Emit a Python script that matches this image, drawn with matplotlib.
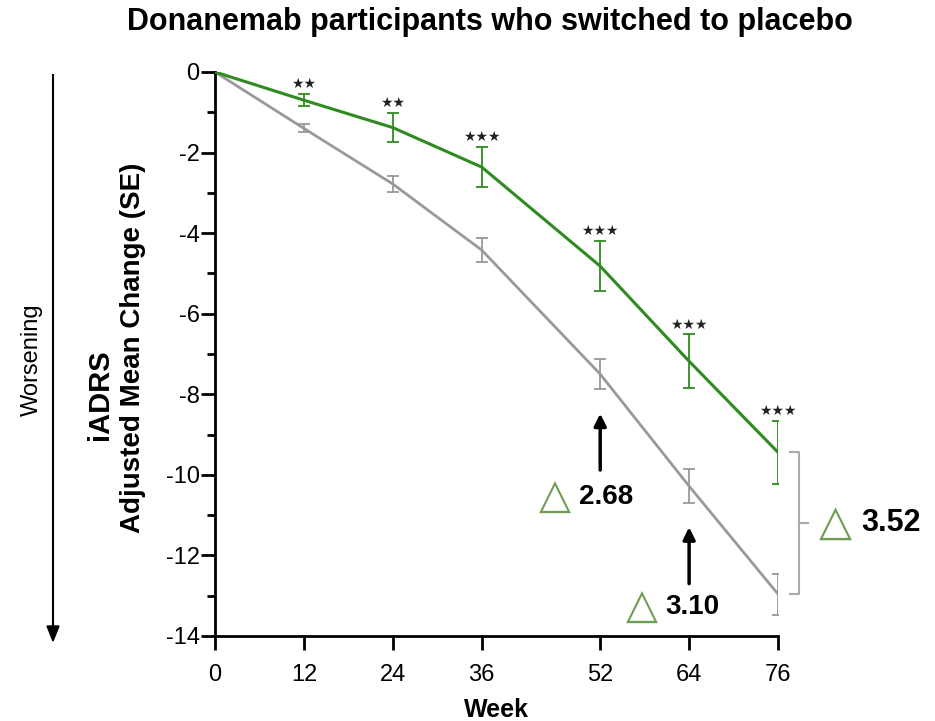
import matplotlib.pyplot as plt
import numpy as np

plt.rcParams['font.family'] = ['Liberation Sans', 'DejaVu Sans']

# iADRS adjusted mean change by week
weeks = [0, 12, 24, 36, 52, 64, 76]
donanemab_mean = [0, -0.70, -1.38, -2.36, -4.82, -7.18, -9.44]
donanemab_se = [0, 0.15, 0.36, 0.50, 0.62, 0.67, 0.78]
placebo_mean = [0, -1.40, -2.78, -4.42, -7.50, -10.28, -12.96]
placebo_se = [0, 0.10, 0.20, 0.30, 0.38, 0.42, 0.51]
stars = ['', '**', '**', '***', '***', '***', '***']

green = '#2e8b1f'
grey = '#999999'
delta_green = '#6f9d55'

W, H = 935, 721
fig = plt.figure(figsize=(W / 100, H / 100), dpi=100)
ax = fig.add_axes([215 / W, 1 - 636 / H, (778 - 215) / W, (636 - 72) / H])


def px(x, y):
    return x / W, 1 - y / H


ax.errorbar(weeks[1:], placebo_mean[1:], yerr=placebo_se[1:], fmt='none',
            ecolor=grey, elinewidth=1.3, capsize=4.5, capthick=1.3, zorder=2)
ax.plot(weeks, placebo_mean, color=grey, lw=2.0, zorder=2)
ax.errorbar(weeks[1:], donanemab_mean[1:], yerr=donanemab_se[1:], fmt='none',
            ecolor=green, elinewidth=1.3, capsize=4.5, capthick=1.3, zorder=3)
ax.plot(weeks, donanemab_mean, color=green, lw=2.2, zorder=3)

# significance stars above the donanemab error bars
for wk, m, se, s in zip(weeks, donanemab_mean, donanemab_se, stars):
    if s:
        ax.annotate(s.replace('*', '\u2605'), (wk, m + se), xytext=(0, 2),
                    textcoords='offset points', ha='center', va='bottom',
                    fontsize=10, color='#222222', family='DejaVu Sans')

ax.set_xlim(0, 76)
ax.set_ylim(-14, 0)
ax.set_xticks(weeks)
ax.set_yticks(np.arange(-14, 1, 2))
ax.set_yticks(np.arange(-13, 0, 2), minor=True)
ax.set_yticklabels([str(v) for v in range(-14, 1, 2)])
for side in ['top', 'right']:
    ax.spines[side].set_visible(False)
for side in ['left', 'bottom']:
    ax.spines[side].set_linewidth(2)
ax.tick_params(which='major', length=10, width=2, labelsize=17)
ax.tick_params(axis='y', pad=1)
ax.tick_params(axis='x', pad=10)
ax.tick_params(which='minor', length=6, width=2)
ax.set_xlabel('Week', fontsize=18, fontweight='bold', labelpad=9)

# differences between arms at weeks 52 and 64
for i, tx, ty in [(4, 45.9, -10.55), (5, 57.6, -13.28)]:
    diff = donanemab_mean[i] - placebo_mean[i]
    low = placebo_mean[i] - placebo_se[i]
    ax.annotate('', xy=(weeks[i], low - 0.6), xytext=(weeks[i], low - 2.0),
                arrowprops=dict(arrowstyle='-|>', color='black', lw=2.5,
                                mutation_scale=18, shrinkA=0, shrinkB=0),
                annotation_clip=False)
    ax.text(tx, ty, '\u25b3', fontsize=30, color=delta_green, ha='center',
            va='center', family='DejaVu Sans')
    ax.text(tx + 3.2, ty, f'{diff:.2f}', fontsize=20, fontweight='bold',
            ha='left', va='center')

# bracket for the week 76 difference
top, bot = donanemab_mean[-1], placebo_mean[-1]
mid = (top + bot) / 2
bx = 78.8
ax.plot([77.6, bx, bx, 77.6], [top, top, bot, bot], color='#aaaaaa', lw=1.5,
        clip_on=False)
ax.plot([bx, 80.0], [mid, mid], color='#aaaaaa', lw=1.5, clip_on=False)
ax.text(83.7, mid, '\u25b3', fontsize=31, color=delta_green, ha='center',
        va='center', family='DejaVu Sans')
ax.text(87.2, mid, f'{top - bot:.2f}', fontsize=22, fontweight='bold',
        ha='left', va='center')

fig.text(*px(490, 22), 'Donanemab participants who switched to placebo',
         fontsize=22, fontweight='bold', ha='center', va='center')
fig.text(*px(100, 395), 'iADRS', fontsize=21, fontweight='bold',
         rotation=90, ha='center', va='center')
fig.text(*px(133, 348), 'Adjusted Mean Change (SE)', fontsize=20,
         fontweight='bold', rotation=90, ha='center', va='center')
fig.text(*px(32, 360), 'Worsening', fontsize=17, rotation=90,
         ha='center', va='center')
fig.add_artist(plt.Line2D([53 / W, 53 / W], [1 - 75 / H, 1 - 630 / H],
                          color='black', lw=1.5))
fig.patches.append(plt.Polygon([px(47, 626), px(59, 626), px(53, 641)],
                               closed=True, color='black',
                               transform=fig.transFigure, figure=fig))

fig.savefig('out.png', dpi=100)
